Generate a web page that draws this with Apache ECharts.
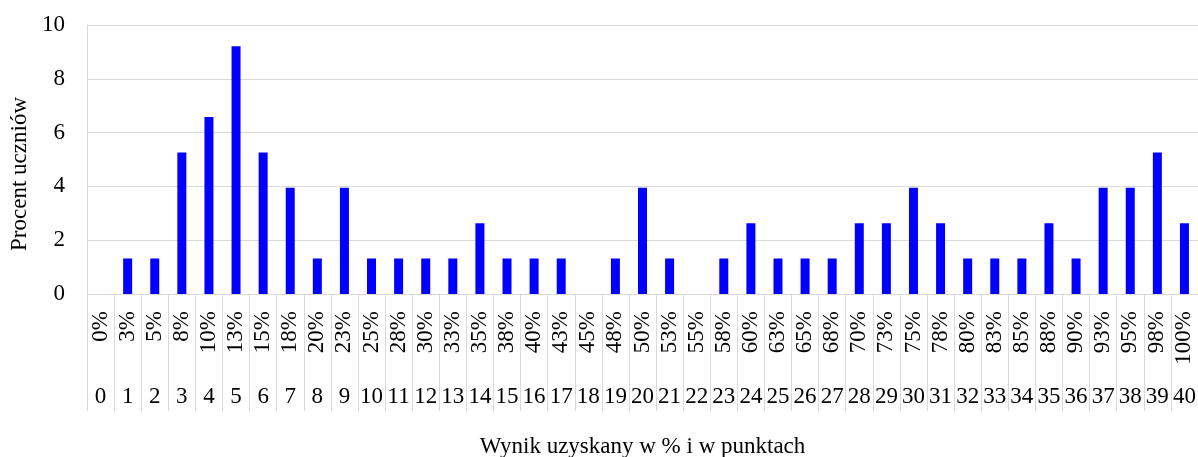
<!DOCTYPE html>
<html>
<head>
<meta charset="utf-8">
<script src="https://cdn.jsdelivr.net/npm/echarts@6/dist/echarts.min.js"></script>
<style>html,body{margin:0;padding:0;background:#fff}#c{width:1198px;height:457px}</style>
</head>
<body>
<div id="c"></div>
<script>
var points = ['0','1','2','3','4','5','6','7','8','9','10','11','12','13','14','15','16','17','18','19','20','21','22','23','24','25','26','27','28','29','30','31','32','33','34','35','36','37','38','39','40'];
var percents = ['0%','3%','5%','8%','10%','13%','15%','18%','20%','23%','25%','28%','30%','33%','35%','38%','40%','43%','45%','48%','50%','53%','55%','58%','60%','63%','65%','68%','70%','73%','75%','78%','80%','83%','85%','88%','90%','93%','95%','98%','100%'];
var values = [0,1.32,1.32,5.26,6.58,9.21,5.26,3.95,1.32,3.95,1.32,1.32,1.32,1.32,2.63,1.32,1.32,1.32,0,1.32,3.95,1.32,0,1.32,2.63,1.32,1.32,1.32,2.63,2.63,3.95,2.63,1.32,1.32,1.32,2.63,1.32,3.95,3.95,5.26,2.63];
var yTicks = [0,2,4,6,8,10];
var xTitle = 'Wynik uzyskany w % i w punktach';
var yTitle = 'Procent uczniów';

var font = 'Liberation Serif';
var fs = 23;
var chart = echarts.init(document.getElementById('c'));
chart.setOption({
  animation: false,
  grid: {left: 87, right: 0, top: 25, bottom: 163, containLabel: false, outerBoundsMode: 'none'},
  xAxis: [{
    type: 'category',
    data: percents,
    position: 'bottom',
    axisLine: {show: true, lineStyle: {color: '#d9d9d9', width: 1}},
    axisTick: {show: true, length: 117, lineStyle: {color: '#d9d9d9', width: 1}},
    axisLabel: {interval: 0, rotate: 90, margin: 17, color: '#000', fontFamily: font, fontSize: fs},
    splitLine: {show: false},
    name: xTitle,
    nameLocation: 'middle',
    nameGap: 141,
    nameTextStyle: {color: '#000', fontFamily: font, fontSize: fs}
  }, {
    type: 'category',
    data: points,
    position: 'bottom',
    axisLine: {show: false},
    axisTick: {show: false},
    axisLabel: {interval: 0, margin: 91, color: '#000', fontFamily: font, fontSize: fs},
    splitLine: {show: false}
  }],
  yAxis: {
    type: 'value',
    min: 0, max: 10, interval: 2,
    axisLine: {show: true, lineStyle: {color: '#d9d9d9', width: 1}},
    axisTick: {show: false},
    axisLabel: {margin: 22, color: '#000', fontFamily: font, fontSize: fs},
    splitLine: {show: true, lineStyle: {color: '#d9d9d9', width: 1}}
  },
  graphic: [{
    type: 'text',
    left: 8, top: 97,
    rotation: Math.PI / 2,
    style: {text: yTitle, fill: '#000', font: fs + 'px "Liberation Serif"'}
  }],
  series: [{
    type: 'bar',
    xAxisIndex: 0,
    data: values,
    barWidth: 9,
    itemStyle: {color: '#0000ff'}
  }]
});
</script>
</body>
</html>
